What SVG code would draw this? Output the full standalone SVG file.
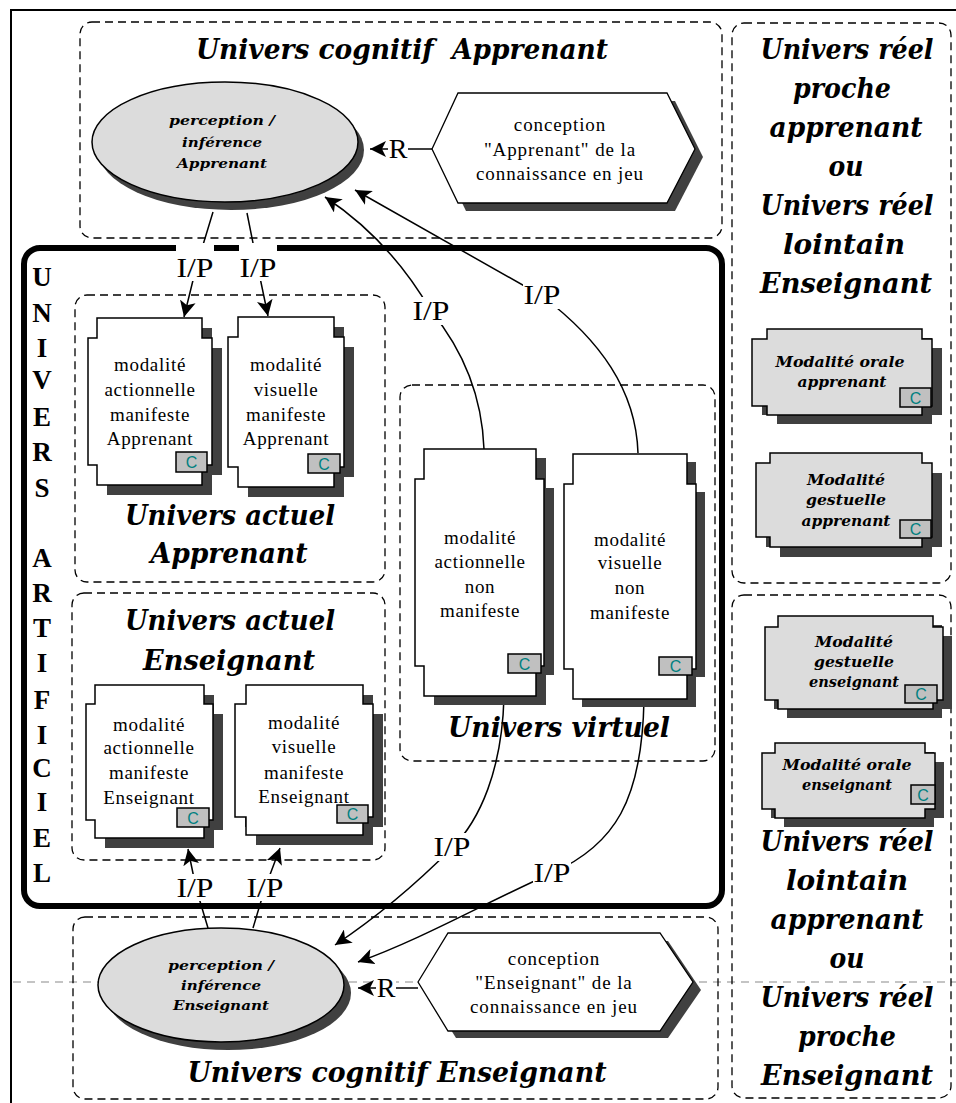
<svg xmlns="http://www.w3.org/2000/svg" width="956" height="1103" viewBox="0 0 956 1103">
<style>
.frame{fill:none;stroke:#000;stroke-width:2}
.dash{fill:none;stroke:#000;stroke-width:1.3;stroke-dasharray:8 5}
.gdash{fill:none;stroke:#8a8a8a;stroke-width:1.2;stroke-dasharray:8 6}
.thick{fill:none;stroke:#000;stroke-width:6}
.shadow{fill:#404040;stroke:none}
.card{fill:#fff;stroke:#000;stroke-width:1.5}
.gcard{fill:#dcdcdc;stroke:#000;stroke-width:1.5}
.ell{fill:#dcdcdc;stroke:#000;stroke-width:1.5}
.hex{fill:#fff;stroke:#000;stroke-width:1.3}
.badge{fill:#c0c0c0;stroke:#000;stroke-width:1.5}
.bc{font-family:"Liberation Sans",Arial,sans-serif;font-size:16px;fill:#008080;text-anchor:middle}
.ct{font-family:"Liberation Serif","Times New Roman",serif;font-size:19px;letter-spacing:0.7px;text-anchor:middle;fill:#000}
.ht{font-family:"Liberation Serif","Times New Roman",serif;font-size:19px;letter-spacing:0.9px;text-anchor:middle;fill:#000}
.gt{font-family:"DejaVu Serif","Liberation Serif",serif;font-size:15px;font-style:italic;font-weight:bold;text-anchor:middle;fill:#000}
.et{font-family:"DejaVu Serif","Liberation Serif",serif;font-size:13px;font-style:italic;font-weight:bold;text-anchor:middle;fill:#000}
.tt{font-family:"DejaVu Serif","Liberation Serif",serif;font-size:27px;font-style:italic;font-weight:bold;text-anchor:middle;fill:#000}
.lt{font-family:"Liberation Serif","Times New Roman",serif;font-size:27px;font-weight:bold;text-anchor:middle;fill:#000}
.lab{font-family:"Liberation Serif","Times New Roman",serif;font-size:28px;text-anchor:middle;fill:#000}
.lbg{fill:#fff;stroke:none}
.conn{fill:none;stroke:#000;stroke-width:1.5}
</style>
<defs>
<marker id="ah" markerUnits="userSpaceOnUse" markerWidth="18" markerHeight="16" refX="16" refY="8" orient="auto">
<path d="M0,0 L16,8 L0,16 L4,8 Z" fill="#000"/>
</marker>
</defs>

<rect width="956" height="1103" fill="#fff"/>
<path class="frame" d="M11,1103 V10 H956"/>
<path class="gdash" d="M13,982 H956"/>

<g id="univers-cognitif-apprenant">
<rect class="dash" x="80" y="22" width="642" height="216" rx="12"/>
<text class="tt" x="402" y="59" textLength="412" lengthAdjust="spacingAndGlyphs" xml:space="preserve">Univers cognitif  Apprenant</text>
</g>
<g id="univers-reel-haut">
<rect class="dash" x="732" y="23" width="219" height="560" rx="12"/>
<text class="tt" x="847" y="59" textLength="173" lengthAdjust="spacingAndGlyphs">Univers réel</text>
<text class="tt" x="842" y="98" textLength="98" lengthAdjust="spacingAndGlyphs">proche</text>
<text class="tt" x="846" y="137" textLength="153" lengthAdjust="spacingAndGlyphs">apprenant</text>
<text class="tt" x="846" y="176" textLength="35" lengthAdjust="spacingAndGlyphs">ou</text>
<text class="tt" x="847" y="215" textLength="173" lengthAdjust="spacingAndGlyphs">Univers réel</text>
<text class="tt" x="844" y="254" textLength="122" lengthAdjust="spacingAndGlyphs">lointain</text>
<text class="tt" x="846" y="293" textLength="172" lengthAdjust="spacingAndGlyphs">Enseignant</text>
</g>
<g id="univers-reel-bas">
<rect class="dash" x="732" y="595" width="219" height="503" rx="12"/>
<text class="tt" x="847" y="851" textLength="173" lengthAdjust="spacingAndGlyphs">Univers réel</text>
<text class="tt" x="847" y="890" textLength="122" lengthAdjust="spacingAndGlyphs">lointain</text>
<text class="tt" x="847" y="929" textLength="153" lengthAdjust="spacingAndGlyphs">apprenant</text>
<text class="tt" x="847" y="968" textLength="35" lengthAdjust="spacingAndGlyphs">ou</text>
<text class="tt" x="847" y="1007" textLength="173" lengthAdjust="spacingAndGlyphs">Univers réel</text>
<text class="tt" x="847" y="1046" textLength="98" lengthAdjust="spacingAndGlyphs">proche</text>
<text class="tt" x="847" y="1085" textLength="172" lengthAdjust="spacingAndGlyphs">Enseignant</text>
</g>
<g id="univers-cognitif-enseignant">
<rect class="dash" x="73" y="917" width="645" height="182" rx="12"/>
<text class="tt" x="397" y="1082" textLength="419" lengthAdjust="spacingAndGlyphs">Univers cognitif Enseignant</text>
</g>
<g id="univers-artificiel">
<rect class="thick" x="24" y="248" width="698" height="658" rx="16"/>
<text class="lt" x="42" y="286">U</text>
<text class="lt" x="42" y="322">N</text>
<text class="lt" x="42" y="357">I</text>
<text class="lt" x="42" y="389">V</text>
<text class="lt" x="42" y="426">E</text>
<text class="lt" x="42" y="461">R</text>
<text class="lt" x="42" y="497">S</text>
<text class="lt" x="42" y="567">A</text>
<text class="lt" x="42" y="602">R</text>
<text class="lt" x="42" y="637">T</text>
<text class="lt" x="42" y="672">I</text>
<text class="lt" x="42" y="709">F</text>
<text class="lt" x="42" y="744">I</text>
<text class="lt" x="42" y="777">C</text>
<text class="lt" x="42" y="811">I</text>
<text class="lt" x="42" y="847">E</text>
<text class="lt" x="42" y="882">L</text>
</g>
<g id="univers-actuel-apprenant">
<rect class="dash" x="75" y="295" width="310" height="287" rx="12"/>
<text class="tt" x="230" y="525" textLength="210" lengthAdjust="spacingAndGlyphs">Univers actuel</text>
<text class="tt" x="229" y="563" textLength="157" lengthAdjust="spacingAndGlyphs">Apprenant</text>
</g>
<g id="univers-actuel-enseignant">
<rect class="dash" x="72" y="593" width="313" height="267" rx="12"/>
<text class="tt" x="230" y="630" textLength="210" lengthAdjust="spacingAndGlyphs">Univers actuel</text>
<text class="tt" x="229" y="670" textLength="172" lengthAdjust="spacingAndGlyphs">Enseignant</text>
</g>
<g id="univers-virtuel">
<rect class="dash" x="400" y="385" width="315" height="376" rx="12"/>
<text class="tt" x="559" y="737" textLength="222" lengthAdjust="spacingAndGlyphs">Univers virtuel</text>
</g>

<g id="connectors">
<path class="conn" d="M213,212 L196,268 L184,317" marker-end="url(#ah)"/>
<path class="conn" d="M247,213 L258,268 L268,316" marker-end="url(#ah)"/>
<path class="conn" d="M484,449 C482,395 463,350 431,311 Q390,240 325,197" marker-end="url(#ah)"/>
<path class="conn" d="M638,453 C636,390 600,340 542,296 L355,190" marker-end="url(#ah)"/>
<path class="conn" d="M504,697 C502,770 480,820 452,848 S380,915 335,945" marker-end="url(#ah)"/>
<path class="conn" d="M644,700 C642,800 615,845 552,873 S420,940 358,962" marker-end="url(#ah)"/>
<path class="conn" d="M208,928 L196,888 L188,849" marker-end="url(#ah)"/>
<path class="conn" d="M253,928 L265,888 L280,848" marker-end="url(#ah)"/>
<path class="conn" d="M432,149 L370,149" marker-end="url(#ah)"/>
<path class="conn" d="M418,988 L358,988" marker-end="url(#ah)"/>
<rect class="lbg" x="176" y="243" width="38" height="38"/>
<text class="lab" x="195" y="277" textLength="37" lengthAdjust="spacingAndGlyphs">I/P</text>
<rect class="lbg" x="239" y="243" width="38" height="38"/>
<text class="lab" x="258" y="277" textLength="37" lengthAdjust="spacingAndGlyphs">I/P</text>
<rect class="lbg" x="412" y="297" width="38" height="28"/>
<text class="lab" x="431" y="320" textLength="37" lengthAdjust="spacingAndGlyphs">I/P</text>
<rect class="lbg" x="523" y="281" width="38" height="28"/>
<text class="lab" x="542" y="304" textLength="37" lengthAdjust="spacingAndGlyphs">I/P</text>
<rect class="lbg" x="176" y="874" width="38" height="27"/>
<text class="lab" x="195" y="897" textLength="37" lengthAdjust="spacingAndGlyphs">I/P</text>
<rect class="lbg" x="246" y="874" width="38" height="27"/>
<text class="lab" x="265" y="897" textLength="37" lengthAdjust="spacingAndGlyphs">I/P</text>
<rect class="lbg" x="433" y="833" width="38" height="28"/>
<text class="lab" x="452" y="856" textLength="37" lengthAdjust="spacingAndGlyphs">I/P</text>
<rect class="lbg" x="533" y="859" width="38" height="28"/>
<text class="lab" x="552" y="882" textLength="37" lengthAdjust="spacingAndGlyphs">I/P</text>
<rect class="lbg" x="388" y="137" width="20" height="24"/>
<text class="lab" x="398" y="158" font-size="26">R</text>
<rect class="lbg" x="376" y="976" width="20" height="24"/>
<text class="lab" x="386" y="997" font-size="26">R</text>
</g>

<g id="perception-apprenant">
<ellipse class="shadow" cx="231" cy="150" rx="133" ry="60"/>
<ellipse class="ell" cx="225" cy="142" rx="133" ry="60"/>
<text class="et" x="222" y="125" textLength="106" lengthAdjust="spacingAndGlyphs">perception /</text>
<text class="et" x="222" y="147" textLength="80" lengthAdjust="spacingAndGlyphs">inférence</text>
<text class="et" x="222" y="168" textLength="90" lengthAdjust="spacingAndGlyphs">Apprenant</text>
</g>
<g id="conception-apprenant">
<polygon class="shadow" points="440,157 466,101 675,101 703,157 675,211 466,211"/>
<polygon class="hex" points="432,149 458,93 667,93 695,149 667,203 458,203"/>
<text class="ht" x="560" y="131">conception</text>
<text class="ht" x="560" y="156">"Apprenant" de la</text>
<text class="ht" x="560" y="180">connaissance en jeu</text>
</g>
<g id="perception-enseignant">
<ellipse class="shadow" cx="228" cy="993" rx="123" ry="57"/>
<ellipse class="ell" cx="221" cy="985" rx="123" ry="57"/>
<text class="et" x="221" y="970" textLength="106" lengthAdjust="spacingAndGlyphs">perception /</text>
<text class="et" x="221" y="990" textLength="80" lengthAdjust="spacingAndGlyphs">inférence</text>
<text class="et" x="221" y="1010" textLength="96" lengthAdjust="spacingAndGlyphs">Enseignant</text>
</g>
<g id="conception-enseignant">
<polygon class="shadow" points="426,990 456,941 668,941 701,990 668,1038 456,1038"/>
<polygon class="hex" points="418,982 448,933 660,933 693,982 660,1031 448,1031"/>
<text class="ht" x="554" y="965">conception</text>
<text class="ht" x="554" y="989">"Enseignant" de la</text>
<text class="ht" x="554" y="1013">connaissance en jeu</text>
</g>

<g id="mod-actionnelle-apprenant">
<path class="shadow" transform="translate(10,10)" d="M97,318 H202 V338 H212 V465 H202 V485 H97 V465 H88 V338 H97 Z"/>
<path class="card" d="M97,318 H202 V338 H212 V465 H202 V485 H97 V465 H88 V338 H97 Z"/>
<text class="ct" x="150" y="371">modalité</text>
<text class="ct" x="150" y="396">actionnelle</text>
<text class="ct" x="150" y="421">manifeste</text>
<text class="ct" x="150" y="445">Apprenant</text>
<rect class="badge" x="176" y="452" width="31" height="20"/>
<text class="bc" x="191.5" y="468">C</text>
</g>
<g id="mod-visuelle-apprenant">
<path class="shadow" transform="translate(10,10)" d="M238,317 H334 V337 H344 V467 H334 V487 H238 V467 H228 V337 H238 Z"/>
<path class="card" d="M238,317 H334 V337 H344 V467 H334 V487 H238 V467 H228 V337 H238 Z"/>
<text class="ct" x="286" y="371">modalité</text>
<text class="ct" x="286" y="396">visuelle</text>
<text class="ct" x="286" y="421">manifeste</text>
<text class="ct" x="286" y="445">Apprenant</text>
<rect class="badge" x="308" y="454" width="32" height="19"/>
<text class="bc" x="324" y="469.5">C</text>
</g>
<g id="mod-actionnelle-enseignant">
<path class="shadow" transform="translate(10,10)" d="M95,685 H204 V704 H213 V820 H204 V838 H95 V820 H86 V704 H95 Z"/>
<path class="card" d="M95,685 H204 V704 H213 V820 H204 V838 H95 V820 H86 V704 H95 Z"/>
<text class="ct" x="149" y="731">modalité</text>
<text class="ct" x="149" y="754">actionnelle</text>
<text class="ct" x="149" y="779">manifeste</text>
<text class="ct" x="149" y="804">Enseignant</text>
<rect class="badge" x="177" y="808" width="32" height="19"/>
<text class="bc" x="193" y="823.5">C</text>
</g>
<g id="mod-visuelle-enseignant">
<path class="shadow" transform="translate(10,10)" d="M246,685 H363 V704 H373 V817 H363 V835 H246 V817 H235 V704 H246 Z"/>
<path class="card" d="M246,685 H363 V704 H373 V817 H363 V835 H246 V817 H235 V704 H246 Z"/>
<text class="ct" x="304" y="729">modalité</text>
<text class="ct" x="304" y="753">visuelle</text>
<text class="ct" x="304" y="779">manifeste</text>
<text class="ct" x="304" y="803">Enseignant</text>
<rect class="badge" x="337" y="805" width="31" height="18"/>
<text class="bc" x="352.5" y="820">C</text>
</g>
<g id="mod-actionnelle-non-manifeste">
<path class="shadow" transform="translate(10,9)" d="M424,449 H536 V479 H544 V666 H536 V696 H424 V666 H415 V479 H424 Z"/>
<path class="card" d="M424,449 H536 V479 H544 V666 H536 V696 H424 V666 H415 V479 H424 Z"/>
<text class="ct" x="480" y="544">modalité</text>
<text class="ct" x="480" y="568">actionnelle</text>
<text class="ct" x="480" y="593">non</text>
<text class="ct" x="480" y="617">manifeste</text>
<rect class="badge" x="508" y="654" width="33" height="19"/>
<text class="bc" x="524.5" y="669.5">C</text>
</g>
<g id="mod-visuelle-non-manifeste">
<path class="shadow" transform="translate(9,8)" d="M573,454 H687 V484 H696 V669 H687 V699 H573 V669 H564 V484 H573 Z"/>
<path class="card" d="M573,454 H687 V484 H696 V669 H687 V699 H573 V669 H564 V484 H573 Z"/>
<text class="ct" x="630" y="546">modalité</text>
<text class="ct" x="630" y="569">visuelle</text>
<text class="ct" x="630" y="594">non</text>
<text class="ct" x="630" y="619">manifeste</text>
<rect class="badge" x="659" y="657" width="33" height="18"/>
<text class="bc" x="675.5" y="672">C</text>
</g>

<g id="mod-orale-apprenant">
<path class="shadow" transform="translate(10,9)" d="M767,329 H922 V339 H932 V406 H922 V415 H767 V406 H752 V339 H767 Z"/>
<path class="gcard" d="M767,329 H922 V339 H932 V406 H922 V415 H767 V406 H752 V339 H767 Z"/>
<text class="gt" x="840" y="367" textLength="129" lengthAdjust="spacingAndGlyphs">Modalité orale</text>
<text class="gt" x="842" y="387" textLength="89" lengthAdjust="spacingAndGlyphs">apprenant</text>
<rect class="badge" x="900" y="388" width="31" height="19"/>
<text class="bc" x="915.5" y="403.5">C</text>
</g>
<g id="mod-gestuelle-apprenant">
<path class="shadow" transform="translate(10,10)" d="M770,453 H922 V463 H932 V537 H922 V547 H770 V537 H756 V463 H770 Z"/>
<path class="gcard" d="M770,453 H922 V463 H932 V537 H922 V547 H770 V537 H756 V463 H770 Z"/>
<text class="gt" x="846" y="485" textLength="78" lengthAdjust="spacingAndGlyphs">Modalité</text>
<text class="gt" x="846" y="505" textLength="80" lengthAdjust="spacingAndGlyphs">gestuelle</text>
<text class="gt" x="846" y="526" textLength="89" lengthAdjust="spacingAndGlyphs">apprenant</text>
<rect class="badge" x="900" y="520" width="31" height="18"/>
<text class="bc" x="915.5" y="535">C</text>
</g>
<g id="mod-gestuelle-enseignant">
<path class="shadow" transform="translate(9,9)" d="M778,616 H933 V627 H943 V700 H933 V709 H778 V700 H765 V627 H778 Z"/>
<path class="gcard" d="M778,616 H933 V627 H943 V700 H933 V709 H778 V700 H765 V627 H778 Z"/>
<text class="gt" x="854" y="647" textLength="78" lengthAdjust="spacingAndGlyphs">Modalité</text>
<text class="gt" x="854" y="667" textLength="80" lengthAdjust="spacingAndGlyphs">gestuelle</text>
<text class="gt" x="854" y="687" textLength="90" lengthAdjust="spacingAndGlyphs">enseignant</text>
<rect class="badge" x="905" y="685" width="32" height="18"/>
<text class="bc" x="921" y="700">C</text>
</g>
<g id="mod-orale-enseignant">
<path class="shadow" transform="translate(9,9)" d="M775,743 H925 V753 H935 V809 H925 V818 H775 V809 H762 V753 H775 Z"/>
<path class="gcard" d="M775,743 H925 V753 H935 V809 H925 V818 H775 V809 H762 V753 H775 Z"/>
<text class="gt" x="847" y="770" textLength="129" lengthAdjust="spacingAndGlyphs">Modalité orale</text>
<text class="gt" x="847" y="790" textLength="90" lengthAdjust="spacingAndGlyphs">enseignant</text>
<rect class="badge" x="911" y="785" width="24" height="19"/>
<text class="bc" x="923" y="800.5">C</text>
</g>
</svg>
